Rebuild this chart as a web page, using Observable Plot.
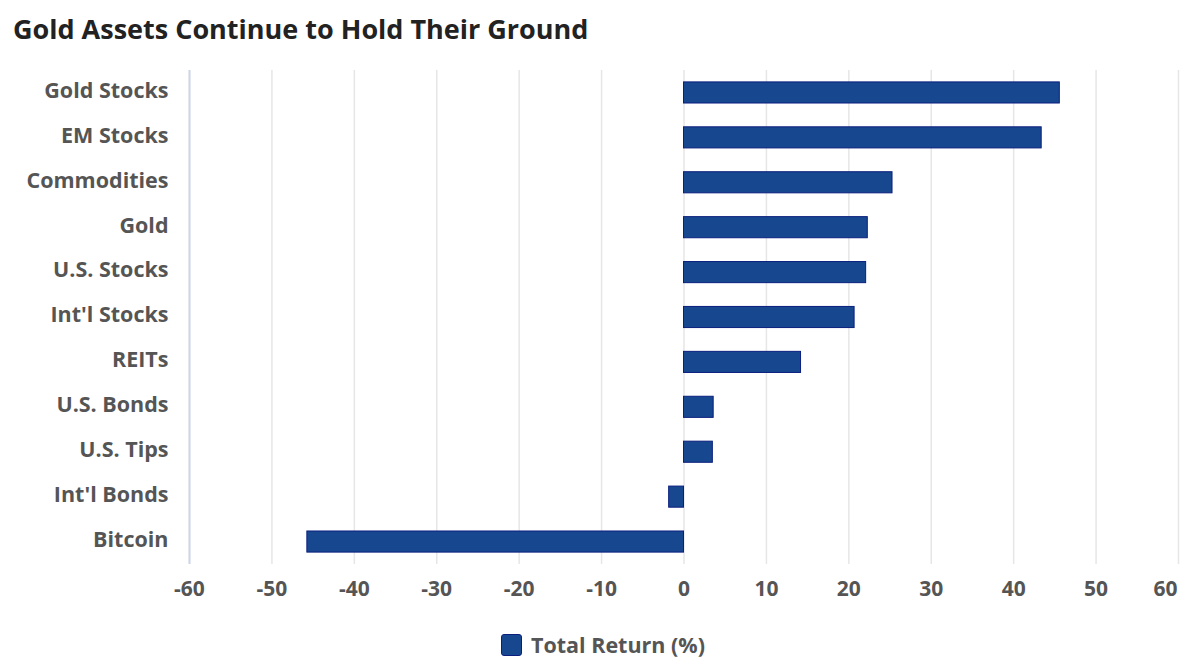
<!DOCTYPE html>
<html>
<head>
<meta charset="utf-8">
<script src="https://cdn.jsdelivr.net/npm/d3@7"></script>
<script src="https://cdn.jsdelivr.net/npm/@observablehq/plot@0.6"></script>
<style>
  body { margin: 0; background: #fff; font-family: "Open Sans", sans-serif; }
  #wrap { position: relative; width: 1200px; height: 667px; overflow: hidden; }
  h1 { position: absolute; left: 13px; top: 10px; margin: 0; font-size: 27px; line-height: 38px; font-weight: 700; color: #222; }
  #chart { position: absolute; left: 0; top: 60px; }
  #legend { position: absolute; left: 501px; top: 630px; display: flex; align-items: center; font-size: 21.5px; font-weight: 700; color: #555; }
  .swatch { width: 19px; height: 20px; background: #17478f; border: 1px solid #0b1f7e; border-radius: 3px; margin-right: 9px; }
</style>
</head>
<body>
<div id="wrap">
  <h1>Gold Assets Continue to Hold Their Ground</h1>
  <div id="chart"></div>
  <div id="legend"><span class="swatch"></span><span>Total Return (%)</span></div>
</div>
<script>
// Asset classes, top to bottom
const categories = ["Gold Stocks", "EM Stocks", "Commodities", "Gold", "U.S. Stocks", "Int'l Stocks", "REITs", "U.S. Bonds", "U.S. Tips", "Int'l Bonds", "Bitcoin"];
// Total return (%) for each asset class
const totalReturn = [45.6, 43.4, 25.3, 22.3, 22.1, 20.7, 14.2, 3.6, 3.5, -1.8, -45.7];
// Value axis ticks
const xTicks = [-60, -50, -40, -30, -20, -10, 0, 10, 20, 30, 40, 50, 60];

const rows = categories.map((c, i) => ({category: c, value: totalReturn[i]}));

const labelColor = "#555";
const fmt = d => `${d}`; // plain hyphen for negatives

const chart = Plot.plot({
  width: 1200,
  height: 560,
  marginTop: 10,
  marginBottom: 56,
  marginLeft: 189,
  marginRight: 22,
  style: { fontFamily: "Open Sans, sans-serif", fontSize: "21px", fontWeight: 700, color: labelColor, background: "#fff" },
  x: { domain: [-60, 60] },
  y: { domain: categories, paddingInner: 0.53, paddingOuter: 0.265, round: false },
  marks: [
    Plot.gridX(xTicks, { stroke: "#e6e6e6", strokeOpacity: 1, strokeWidth: 1.5 }),
    Plot.ruleX([-60], { stroke: "#ccd6eb", strokeWidth: 2 }),
    Plot.barX(rows, { x: "value", y: "category", fill: "#17478f", stroke: "#0b1f7e", strokeWidth: 1 }),
    Plot.axisY({ tickSize: 0, tickPadding: 21, label: null, fontSize: 21.5, fontWeight: 700, fill: labelColor, dy: -2 }),
    Plot.axisX(xTicks.filter(t => t !== 60), { tickSize: 0, tickPadding: 17, label: null, tickFormat: fmt, fontSize: 21, fontWeight: 700, fill: labelColor }),
    Plot.axisX([60], { tickSize: 0, tickPadding: 17, label: null, tickFormat: fmt, fontSize: 21, fontWeight: 700, fill: labelColor, dx: -13 })
  ]
});

document.getElementById("chart").appendChild(chart);
</script>
</body>
</html>
